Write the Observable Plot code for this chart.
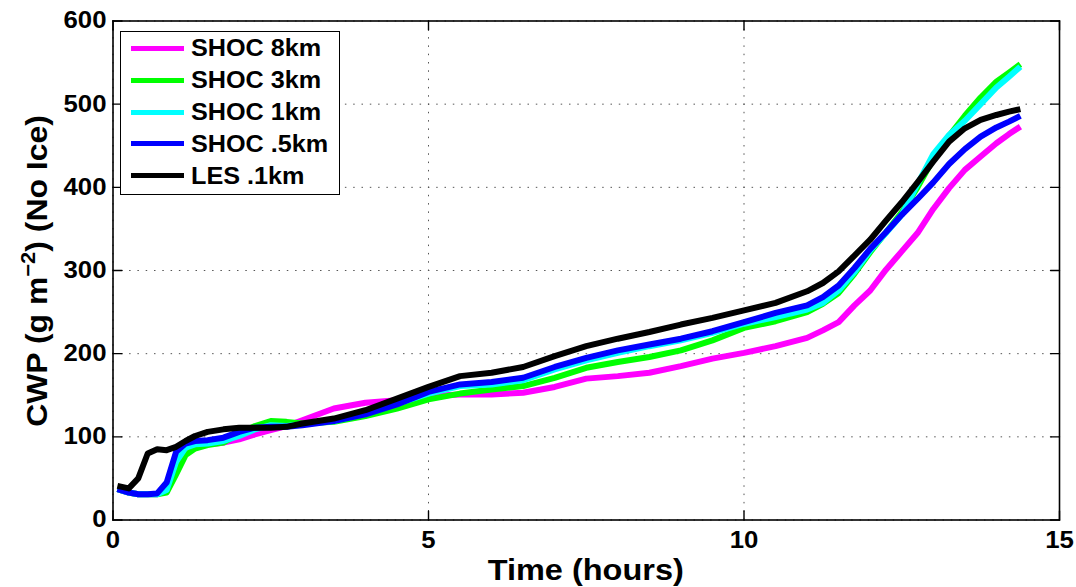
<!DOCTYPE html>
<html><head><meta charset="utf-8">
<script src="https://cdn.jsdelivr.net/npm/d3@7"></script>
<script src="https://cdn.jsdelivr.net/npm/@observablehq/plot@0.6"></script>
<style>
html,body{margin:0;padding:0;background:#fff;}
#wrap{position:relative;width:1076px;height:587px;font-family:"Liberation Sans",Arial,sans-serif;font-weight:bold;color:#000;}
#legend{position:absolute;left:120px;top:30.5px;width:218px;height:162px;border:1.5px solid #000;background:#fff;}
.row{position:absolute;left:0;height:32px;width:218px;display:flex;align-items:center;}
.sw{width:53px;height:5px;margin-left:9.5px;margin-right:7px;flex:none;}
.lab{font-size:24px;line-height:32px;white-space:nowrap;transform:scaleX(1.05);transform-origin:left center;}
</style>
</head><body>
<div id="wrap"><div id="chart"></div><div id="legend"></div></div>
<script>
// ---- data ----
const hours = [0.07, 0.25, 0.4, 0.55, 0.7, 0.85, 1.0, 1.15, 1.3, 1.5, 1.75, 2.0, 2.25, 2.5, 2.75, 3.0, 3.5, 4.0, 4.5, 5.0, 5.5, 6.0, 6.5, 7.0, 7.5, 8.0, 8.5, 9.0, 9.5, 10.0, 10.5, 11.0, 11.25, 11.5, 11.75, 12.0, 12.25, 12.5, 12.75, 13.0, 13.25, 13.5, 13.75, 14.0, 14.2, 14.38];
const shoc8km  = [37, 33, 31, 31, 31, 38, 75, 87, 90, 91, 93, 97, 103, 108, 113, 120, 134, 141, 144, 149, 151, 151, 153, 160, 170, 173, 177, 185, 194, 201, 209, 219, 228, 238, 258, 276, 301, 323, 345, 374, 399, 421, 437, 453, 464, 473];
const shoc3km  = [37, 33, 31, 31, 31, 33, 55, 78, 86, 90, 93, 104, 113, 119, 118, 116, 118, 125, 134, 145, 152, 157, 161, 171, 183, 190, 196, 204, 216, 231, 239, 250, 260, 273, 296, 322, 346, 370, 400, 434, 462, 486, 508, 527, 538, 548];
const shoc1km  = [37, 33, 31, 31, 31, 36, 70, 87, 91, 92, 95, 101, 109, 114, 113, 115, 119, 128, 140, 152, 161, 163, 168, 181, 192, 201, 209, 216, 225, 236, 244, 253, 261, 276, 298, 324, 345, 367, 404, 440, 463, 480, 500, 520, 533, 545];
const shoc05km = [37, 33, 31, 31, 32, 45, 82, 92, 95, 96, 99, 106, 111, 112, 112, 114, 119, 127, 139, 154, 163, 166, 171, 184, 195, 204, 211, 218, 227, 238, 249, 258, 268, 282, 303, 326, 346, 367, 386, 406, 428, 446, 461, 472, 479, 486];
const les01km  = [41, 38, 50, 80, 85, 84, 88, 95, 101, 106, 109, 111, 111, 111, 112, 116, 122, 132, 146, 160, 173, 177, 184, 197, 209, 218, 226, 235, 243, 252, 261, 275, 285, 299, 318, 337, 360, 382, 406, 431, 455, 471, 481, 487, 491, 494];
const seriesNames = ["SHOC 8km", "SHOC 3km", "SHOC 1km", "SHOC .5km", "LES .1km"];
const seriesColors = ["#ff00ff", "#00ff00", "#00ffff", "#0000ff", "#000000"];
const seriesValues = [shoc8km, shoc3km, shoc1km, shoc05km, les01km];
const xTicks = [0, 5, 10, 15];
const yTicks = [0, 100, 200, 300, 400, 500, 600];
const xLabel = "Time (hours)";

// ---- chart ----
const rows = seriesNames.flatMap((name, i) => hours.map((h, j) => ({series: name, t: h, v: seriesValues[i][j]})));
const W = 1076, H = 587, mL = 112.5, mR = 17, mT = 20.5, mB = 67.5;
const tickShape = {draw(context, l) { context.moveTo(0, 0); context.lineTo(0, -l); }};
const tickOpts = {length: 9, anchor: "start", shape: tickShape, stroke: "black", strokeWidth: 1.4};

const svg = Plot.plot({
  width: W, height: H,
  marginLeft: mL, marginRight: mR, marginTop: mT, marginBottom: mB,
  style: {fontFamily: '"Liberation Sans", Arial, sans-serif', fontSize: "23px", fontWeight: "bold", color: "black", background: "white", overflow: "visible"},
  x: {domain: [0, 15]},
  y: {domain: [0, 600]},
  color: {domain: seriesNames, range: seriesColors},
  marks: [
    Plot.gridY(yTicks, {stroke: "#555", strokeOpacity: 1, strokeWidth: 1, strokeDasharray: "1.5,6.8"}),
    Plot.gridX(xTicks, {stroke: "#555", strokeOpacity: 1, strokeWidth: 1, strokeDasharray: "1.5,6.8"}),
    ...seriesNames.map(name => Plot.line(rows.filter(d => d.series === name), {x: "t", y: "v", stroke: "series", strokeWidth: 6, strokeLinejoin: "round", strokeLinecap: "butt"})),
    Plot.frame({stroke: "black", strokeWidth: 1.6}),
    // inward tick marks on all four sides
    Plot.vector(yTicks, {y: d => d, frameAnchor: "left", rotate: 90, ...tickOpts}),
    Plot.vector(yTicks, {y: d => d, frameAnchor: "right", rotate: -90, ...tickOpts}),
    Plot.vector(xTicks, {x: d => d, frameAnchor: "bottom", rotate: 0, ...tickOpts}),
    Plot.vector(xTicks, {x: d => d, frameAnchor: "top", rotate: 180, ...tickOpts}),
    Plot.axisY({anchor: "left", ticks: yTicks, tickSize: 0, tickPadding: 6.5, label: null}),
    Plot.axisX({anchor: "bottom", ticks: xTicks, tickSize: 0, tickPadding: 12, label: null})
  ]
});
document.getElementById("chart").appendChild(svg);

// stretch tick labels horizontally (reference font is wider)
svg.querySelectorAll('g[aria-label="y-axis tick label"] text, g[aria-label="x-axis tick label"] text').forEach(t => {
  const L = t.getComputedTextLength();
  t.setAttribute("textLength", (L * 1.12).toFixed(1));
  t.setAttribute("lengthAdjust", "spacingAndGlyphs");
});

// axis labels
const s = d3.select(svg);
const cx = (mL + W - mR) / 2, cy = (mT + H - mB) / 2;
const xl = s.append("text").attr("x", cx).attr("y", 579.5).attr("text-anchor", "middle")
  .style("font-size", "29px").style("font-weight", "bold").attr("fill", "black").text(xLabel);
xl.attr("textLength", (xl.node().getComputedTextLength() * 1.12).toFixed(1)).attr("lengthAdjust", "spacingAndGlyphs");

const yl = s.append("text").attr("transform", `translate(46.5,${cy + 1}) rotate(-90)`).attr("text-anchor", "middle")
  .style("font-size", "29px").style("font-weight", "bold").attr("fill", "black");
yl.append("tspan").text("CWP (g m");
yl.append("tspan").attr("dy", -12).style("font-size", "20px").text("\u22122");
yl.append("tspan").attr("dy", 12).text(") (No Ice)");
yl.attr("textLength", (yl.node().getComputedTextLength() * 1.1).toFixed(1)).attr("lengthAdjust", "spacingAndGlyphs");

// legend
const leg = document.getElementById("legend");
seriesNames.forEach((name, i) => {
  const r = document.createElement("div");
  r.className = "row";
  r.style.top = (18.3 + 31.85 * i - 16 - 1.5) + "px";
  const sw = document.createElement("div");
  sw.className = "sw";
  sw.style.background = seriesColors[i];
  const lb = document.createElement("div");
  lb.className = "lab";
  lb.textContent = name;
  r.appendChild(sw); r.appendChild(lb);
  leg.appendChild(r);
});
</script>
</body></html>
